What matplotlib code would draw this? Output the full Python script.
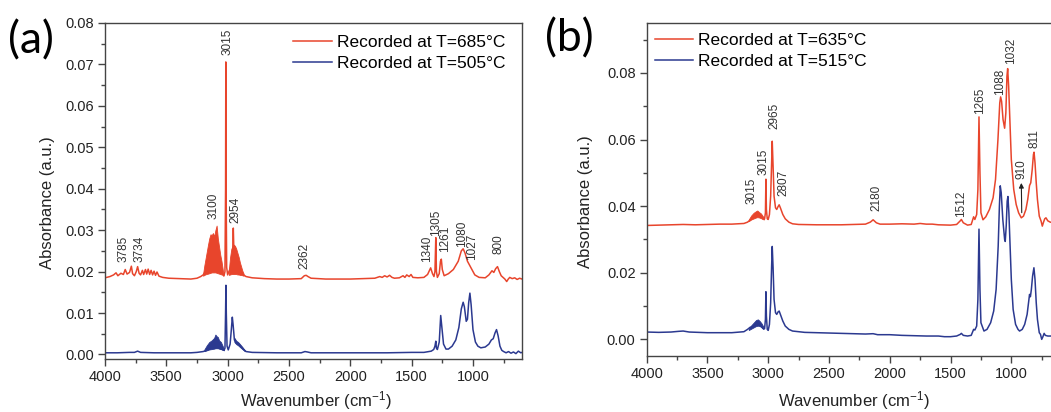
import matplotlib
matplotlib.use("Agg")
import matplotlib.pyplot as plt
from matplotlib.ticker import MultipleLocator

plt.rcParams['font.family'] = ['Liberation Sans', 'DejaVu Sans']
plt.rcParams['mathtext.default'] = 'regular'

RED = '#e8452c'
BLUE = '#2b3990'
GREY = '#444444'

# ---------------- panel (a) data ----------------
a_red_wn = [4000, 3960, 3930, 3910, 3895, 3870, 3850, 3835, 3820, 3800, 3785, 3775, 3760, 3745,
            3734, 3722, 3710, 3695, 3685, 3670, 3660, 3648, 3636, 3624, 3612, 3600, 3588, 3576,
            3560, 3530, 3480, 3400, 3300, 3250, 3220, 3200, 3180, 3160, 3140, 3120, 3100, 3080,
            3060, 3040, 3030, 3022, 3017, 3015, 3013, 3008, 3000, 2990, 2975, 2960, 2954, 2948,
            2930, 2910, 2890, 2870, 2850, 2800, 2700, 2600, 2500, 2400, 2375, 2360, 2345, 2320,
            2200, 2000, 1900, 1800, 1760, 1740, 1720, 1700, 1680, 1660, 1640, 1600, 1570, 1555,
            1540, 1520, 1505, 1490, 1450, 1400, 1370, 1345, 1330, 1318, 1310, 1303, 1298, 1290,
            1275, 1265, 1258, 1250, 1235, 1200, 1160, 1120, 1095, 1080, 1065, 1045, 1027, 1010,
            985, 950, 900, 870, 845, 830, 815, 800, 785, 770, 755, 740, 725, 712, 700, 680, 660,
            640, 620, 600]
a_red_abs = [0.0185, 0.0188, 0.0192, 0.0197, 0.0190, 0.0196, 0.0193, 0.0205, 0.0194, 0.0198, 0.0213,
             0.0195, 0.0190, 0.0200, 0.0212, 0.0196, 0.0192, 0.0203, 0.0193, 0.0205, 0.0194, 0.0206,
             0.0193, 0.0203, 0.0192, 0.0201, 0.0191, 0.0199, 0.0189, 0.0186, 0.0184, 0.0183, 0.0182,
             0.0184, 0.0188, 0.0192, 0.0200, 0.0205, 0.0210, 0.0212, 0.0212, 0.0208, 0.0200, 0.0195,
             0.0190, 0.0200, 0.0400, 0.0706, 0.0420, 0.0210, 0.0192, 0.0200, 0.0210, 0.0230, 0.0305,
             0.0235, 0.0215, 0.0205, 0.0198, 0.0192, 0.0188, 0.0185, 0.0183, 0.0182, 0.0182, 0.0183,
             0.0190, 0.0191, 0.0188, 0.0184, 0.0182, 0.0182, 0.0183, 0.0184, 0.0188, 0.0186, 0.0190,
             0.0187, 0.0191, 0.0186, 0.0184, 0.0185, 0.0190, 0.0186, 0.0192, 0.0188, 0.0193, 0.0186,
             0.0185, 0.0186, 0.0193, 0.0209, 0.0195, 0.0188, 0.0200, 0.0282, 0.0200, 0.0186, 0.0195,
             0.0225, 0.0230, 0.0205, 0.0190, 0.0195, 0.0205, 0.0225, 0.0250, 0.0255, 0.0245, 0.0225,
             0.0215, 0.0205, 0.0192, 0.0186, 0.0185, 0.0192, 0.0202, 0.0198, 0.0207, 0.0212, 0.0200,
             0.0190, 0.0186, 0.0182, 0.0176, 0.0182, 0.0186, 0.0183, 0.0185, 0.0181, 0.0184, 0.0182]

# dense rotational bands (upper / lower envelopes)
a_red_band1_wn = [3200, 3190, 3175, 3160, 3150, 3140, 3130, 3120, 3110, 3100, 3090, 3080, 3070, 3060, 3050, 3040, 3035]
a_red_band1_hi = [0.0195, 0.0215, 0.0240, 0.0265, 0.0280, 0.0290, 0.0288, 0.0293, 0.0285, 0.0300, 0.0311,
                  0.0280, 0.0260, 0.0240, 0.0225, 0.0205, 0.0195]
a_red_band1_lo = [0.0190, 0.0192, 0.0194, 0.0195, 0.0196, 0.0197, 0.0198, 0.0198, 0.0198, 0.0198, 0.0197,
                  0.0196, 0.0195, 0.0194, 0.0193, 0.0192, 0.0190]
a_red_band2_wn = [2990, 2980, 2970, 2960, 2950, 2940, 2930, 2920, 2910, 2900, 2890, 2880, 2870]
a_red_band2_hi = [0.0205, 0.0235, 0.0255, 0.0262, 0.0265, 0.0262, 0.0255, 0.0245, 0.0235, 0.0222, 0.0212, 0.0202, 0.0195]
a_red_band2_lo = [0.0192, 0.0193, 0.0194, 0.0194, 0.0194, 0.0194, 0.0194, 0.0193, 0.0193, 0.0192, 0.0192, 0.0191, 0.0190]

a_blue_wn = [4000, 3900, 3800, 3760, 3734, 3710, 3600, 3400, 3300, 3250, 3200, 3170, 3140, 3110, 3080,
             3050, 3030, 3022, 3017, 3014, 3011, 3005, 2995, 2980, 2970, 2962, 2955, 2945, 2930, 2910,
             2890, 2870, 2850, 2800, 2600, 2400, 2370, 2350, 2320, 2000, 1700, 1500, 1400, 1340, 1320,
             1310, 1303, 1298, 1290, 1275, 1263, 1255, 1240, 1220, 1200, 1170, 1140, 1115, 1095, 1080,
             1070, 1055, 1045, 1035, 1025, 1015, 1000, 980, 960, 936, 900, 870, 850, 835, 820, 808, 795,
             780, 765, 750, 730, 710, 690, 670, 650, 630, 610, 600]
a_blue_abs = [0.0004, 0.0004, 0.0005, 0.0005, 0.0008, 0.0005, 0.0004, 0.0004, 0.0004, 0.0005, 0.0007,
              0.0010, 0.0014, 0.0016, 0.0016, 0.0013, 0.0010, 0.0015, 0.0100, 0.0167, 0.0100, 0.0020,
              0.0011, 0.0025, 0.0060, 0.0090, 0.0070, 0.0035, 0.0028, 0.0025, 0.0018, 0.0012, 0.0007,
              0.0005, 0.0004, 0.0004, 0.0007, 0.0006, 0.0004, 0.0004, 0.0004, 0.0005, 0.0005, 0.0008,
              0.0012, 0.0020, 0.0032, 0.0015, 0.0012, 0.0030, 0.0094, 0.0070, 0.0025, 0.0013, 0.0013,
              0.0020, 0.0035, 0.0065, 0.0110, 0.0126, 0.0115, 0.0080, 0.0085, 0.0125, 0.0148, 0.0120,
              0.0060, 0.0030, 0.0020, 0.0016, 0.0018, 0.0025, 0.0035, 0.0038, 0.0052, 0.0060, 0.0045,
              0.0020, 0.0010, 0.0007, 0.0004, 0.0007, 0.0003, 0.0006, 0.0002, 0.0008, 0.0004, 0.0005]
a_blue_band1_wn = [3190, 3170, 3150, 3130, 3110, 3100, 3090, 3080, 3070, 3055, 3040, 3030]
a_blue_band1_hi = [0.0012, 0.0022, 0.0030, 0.0034, 0.0040, 0.0048, 0.0044, 0.0042, 0.0034, 0.0030, 0.0020, 0.0012]
a_blue_band1_lo = [0.0008, 0.0010, 0.0012, 0.0013, 0.0014, 0.0015, 0.0015, 0.0015, 0.0014, 0.0013, 0.0011, 0.0010]
a_blue_band2_wn = [2945, 2930, 2915, 2900, 2880, 2860]
a_blue_band2_hi = [0.0040, 0.0033, 0.0030, 0.0025, 0.0018, 0.0010]
a_blue_band2_lo = [0.0030, 0.0025, 0.0022, 0.0018, 0.0013, 0.0008]

a_peaks = ['3785', '3734', '3100', '3015', '2954', '2362', '1340', '1305', '1261', '1080', '1027', '800']
a_peak_x = [3849, 3719, 3114, 3004, 2935, 2370, 1371, 1302, 1225, 1088, 1006, 793]
a_peak_y = [0.0223, 0.0223, 0.0328, 0.0722, 0.0317, 0.0207, 0.0223, 0.0287, 0.0247, 0.0259, 0.0227, 0.0243]

# ---------------- panel (b) data ----------------
b_red_wn = [4000, 3900, 3800, 3700, 3600, 3500, 3400, 3300, 3200, 3170, 3150, 3120, 3100, 3080, 3060,
            3040, 3030, 3023, 3019, 3015, 3008, 3000, 2990, 2980, 2972, 2967, 2960, 2952, 2940, 2930,
            2920, 2910, 2900, 2880, 2860, 2830, 2800, 2750, 2600, 2400, 2200, 2160, 2137, 2110, 2080,
            2000, 1900, 1800, 1750, 1700, 1650, 1600, 1500, 1450, 1420, 1411, 1395, 1360, 1330, 1310,
            1300, 1285, 1275, 1266, 1258, 1250, 1233, 1210, 1180, 1150, 1130, 1110, 1095, 1088, 1080,
            1068, 1055, 1045, 1036, 1030, 1022, 1010, 1000, 980, 960, 940, 918, 900, 880, 865, 850,
            840, 828, 818, 813, 805, 795, 785, 770, 755, 745, 735, 725, 715, 700, 680, 650, 600]
b_red_abs = [0.0342, 0.0343, 0.0344, 0.0345, 0.0344, 0.0345, 0.0346, 0.0346, 0.0348, 0.0352, 0.0358,
             0.0365, 0.0370, 0.0372, 0.0368, 0.0362, 0.0362, 0.0380, 0.0481, 0.0390, 0.0362, 0.0360,
             0.0375, 0.0430, 0.0530, 0.0595, 0.0520, 0.0430, 0.0395, 0.0390, 0.0398, 0.0404, 0.0395,
             0.0375, 0.0362, 0.0352, 0.0347, 0.0345, 0.0344, 0.0344, 0.0346, 0.0352, 0.0359, 0.0350,
             0.0346, 0.0346, 0.0347, 0.0346, 0.0348, 0.0346, 0.0346, 0.0344, 0.0343, 0.0345, 0.0356,
             0.0360, 0.0350, 0.0343, 0.0345, 0.0368, 0.0360, 0.0375, 0.0450, 0.0668, 0.0500, 0.0380,
             0.0359, 0.0368, 0.0390, 0.0425, 0.0480, 0.0600, 0.0710, 0.0728, 0.0715, 0.0660, 0.0634,
             0.0680, 0.0790, 0.0813, 0.0760, 0.0640, 0.0540, 0.0450, 0.0405, 0.0380, 0.0365, 0.0370,
             0.0390, 0.0420, 0.0462, 0.0470, 0.0510, 0.0555, 0.0562, 0.0530, 0.0470, 0.0420, 0.0370,
             0.0355, 0.0340, 0.0352, 0.0362, 0.0365, 0.0356, 0.0352, 0.0350, 0.0350]
b_red_band_wn = [3160, 3140, 3120, 3100, 3090, 3075, 3060, 3045, 3035]
b_red_band_hi = [0.0360, 0.0372, 0.0380, 0.0385, 0.0387, 0.0382, 0.0378, 0.0370, 0.0365]
b_red_band_lo = [0.0355, 0.0360, 0.0363, 0.0366, 0.0367, 0.0366, 0.0364, 0.0361, 0.0360]

b_blue_wn = [4000, 3900, 3800, 3740, 3700, 3650, 3500, 3400, 3300, 3200, 3170, 3150, 3120, 3100, 3080,
             3060, 3040, 3030, 3023, 3019, 3015, 3008, 3000, 2990, 2980, 2972, 2967, 2960, 2952, 2940,
             2930, 2920, 2910, 2900, 2880, 2860, 2830, 2800, 2700, 2600, 2400, 2200, 2137, 2100, 2000,
             1900, 1800, 1700, 1600, 1550, 1500, 1450, 1420, 1411, 1395, 1360, 1330, 1310, 1300, 1285,
             1275, 1266, 1258, 1250, 1225, 1200, 1170, 1145, 1125, 1108, 1098, 1091, 1083, 1070, 1055,
             1050, 1042, 1034, 1028, 1020, 1010, 1000, 985, 965, 945, 932, 910, 890, 870, 855, 850, 843,
             835, 825, 814, 805, 795, 785, 770, 760, 750, 740, 730, 720, 700, 650, 600]
b_blue_abs = [0.0022, 0.0021, 0.0022, 0.0024, 0.0025, 0.0022, 0.0020, 0.0020, 0.0020, 0.0023, 0.0030,
              0.0036, 0.0040, 0.0045, 0.0046, 0.0040, 0.0032, 0.0032, 0.0060, 0.0143, 0.0070, 0.0030,
              0.0027, 0.0045, 0.0110, 0.0220, 0.0279, 0.0215, 0.0120, 0.0080, 0.0075, 0.0082, 0.0085,
              0.0075, 0.0055, 0.0040, 0.0030, 0.0025, 0.0021, 0.0020, 0.0018, 0.0016, 0.0017, 0.0014,
              0.0014, 0.0012, 0.0011, 0.0010, 0.0010, 0.0008, 0.0008, 0.0010, 0.0015, 0.0018, 0.0012,
              0.0010, 0.0012, 0.0030, 0.0028, 0.0040, 0.0120, 0.0331, 0.0150, 0.0050, 0.0025, 0.0030,
              0.0050, 0.0085, 0.0150, 0.0280, 0.0400, 0.0461, 0.0440, 0.0360, 0.0300, 0.0294, 0.0340,
              0.0415, 0.0429, 0.0380, 0.0280, 0.0180, 0.0090, 0.0045, 0.0030, 0.0025, 0.0030, 0.0045,
              0.0075, 0.0120, 0.0135, 0.0128, 0.0150, 0.0190, 0.0215, 0.0180, 0.0110, 0.0060, 0.0020,
              0.0015, 0.0000, 0.0008, 0.0018, 0.0012, 0.0010, 0.0010, 0.0010]
b_blue_band_wn = [3160, 3140, 3120, 3100, 3085, 3070, 3055, 3040]
b_blue_band_hi = [0.0032, 0.0042, 0.0050, 0.0058, 0.0060, 0.0055, 0.0048, 0.0038]
b_blue_band_lo = [0.0028, 0.0032, 0.0036, 0.0040, 0.0041, 0.0040, 0.0036, 0.0031]

b_peaks = ['3015', '3015', '2965', '2807', '2180', '1512', '1265', '1088', '1032', '811']
b_peak_x = [3137, 3041, 2945, 2871, 2110, 1411, 1255, 1096, 1000, 808]
b_peak_y = [0.0407, 0.0494, 0.0633, 0.0429, 0.0384, 0.0367, 0.0676, 0.0733, 0.0828, 0.0574]


def style_axes(ax, ymajor, yminor):
    ax.set_xlim(4000, 600)
    ax.xaxis.set_major_locator(MultipleLocator(500))
    ax.xaxis.set_minor_locator(MultipleLocator(250))
    ax.yaxis.set_major_locator(MultipleLocator(ymajor))
    ax.yaxis.set_minor_locator(MultipleLocator(yminor))
    ax.yaxis.set_major_formatter(plt.FuncFormatter(lambda v, p: f"{v:.2f}"))
    for s in ax.spines.values():
        s.set_color(GREY)
        s.set_linewidth(1.0)
    ax.tick_params(which='both', direction='out', color=GREY, width=1.0, top=False, right=False)
    ax.tick_params(which='major', length=5, labelsize=10.5, labelcolor='#222222', pad=3)
    ax.tick_params(which='minor', length=3)
    ax.set_xlabel('Wavenumber (cm$^{-1}$)', fontsize=12, color='#222222')
    ax.set_ylabel('Absorbance (a.u.)', fontsize=12, color='#222222')


fig = plt.figure(figsize=(10.51, 4.12), dpi=100)
ax1 = fig.add_axes([0.0999, 0.1286, 0.3968, 0.8156])
ax2 = fig.add_axes([0.6153, 0.1359, 0.3932, 0.8083])

# (a)
ax1.plot(a_red_wn, a_red_abs, color=RED, lw=1.1, label='Recorded at T=685°C')
ax1.fill_between(a_red_band1_wn, a_red_band1_lo, a_red_band1_hi, color=RED, lw=0.6)
ax1.fill_between(a_red_band2_wn, a_red_band2_lo, a_red_band2_hi, color=RED, lw=0.6)
ax1.plot(a_blue_wn, a_blue_abs, color=BLUE, lw=1.1, label='Recorded at T=505°C')
ax1.fill_between(a_blue_band1_wn, a_blue_band1_lo, a_blue_band1_hi, color=BLUE, lw=0.6)
ax1.fill_between(a_blue_band2_wn, a_blue_band2_lo, a_blue_band2_hi, color=BLUE, lw=0.6)
ax1.set_ylim(-0.0011, 0.08)
style_axes(ax1, 0.01, 0.005)
for t, x, y in zip(a_peaks, a_peak_x, a_peak_y):
    ax1.text(x, y, t, rotation=90, ha='center', va='bottom', fontsize=8.5, color='#333333')
ax1.legend(loc='upper right', bbox_to_anchor=(0.96, 0.965), frameon=False, fontsize=12.5,
           handlelength=2.2, handletextpad=0.3, labelspacing=0.35, borderpad=0, borderaxespad=0)
ax1.xaxis.set_label_coords(0.505, -0.09)
ax1.yaxis.set_label_coords(-0.12, 0.466)

# (b)
ax2.plot(b_red_wn, b_red_abs, color=RED, lw=1.1, label='Recorded at T=635°C')
ax2.fill_between(b_red_band_wn, b_red_band_lo, b_red_band_hi, color=RED, lw=0.6)
ax2.plot(b_blue_wn, b_blue_abs, color=BLUE, lw=1.1, label='Recorded at T=515°C')
ax2.fill_between(b_blue_band_wn, b_blue_band_lo, b_blue_band_hi, color=BLUE, lw=0.6)
ax2.set_ylim(-0.005, 0.095)
style_axes(ax2, 0.02, 0.01)
for t, x, y in zip(b_peaks, b_peak_x, b_peak_y):
    ax2.text(x, y, t, rotation=90, ha='center', va='bottom', fontsize=8.5, color='#333333')
ax2.annotate('', xy=(918, 0.0478), xytext=(914, 0.0372),
             arrowprops=dict(arrowstyle='-|>', color='#222222', lw=0.8, mutation_scale=7))
ax2.text(918, 0.0482, '910', rotation=90, ha='center', va='bottom', fontsize=8.5, color='#333333')
ax2.legend(loc='upper left', bbox_to_anchor=(0.02, 0.97), frameon=False, fontsize=12.5,
           handlelength=2.2, handletextpad=0.3, labelspacing=0.35, borderpad=0, borderaxespad=0)
ax2.xaxis.set_label_coords(0.5, -0.1)
ax2.yaxis.set_label_coords(-0.131, 0.463)

fig.text(0.029, 0.901, '(a)', fontsize=32, ha='center', va='center', family=['Lato', 'DejaVu Sans'])
fig.text(0.5414, 0.905, '(b)', fontsize=32, ha='center', va='center', family=['Lato', 'DejaVu Sans'])

fig.savefig('out.png', dpi=100)
